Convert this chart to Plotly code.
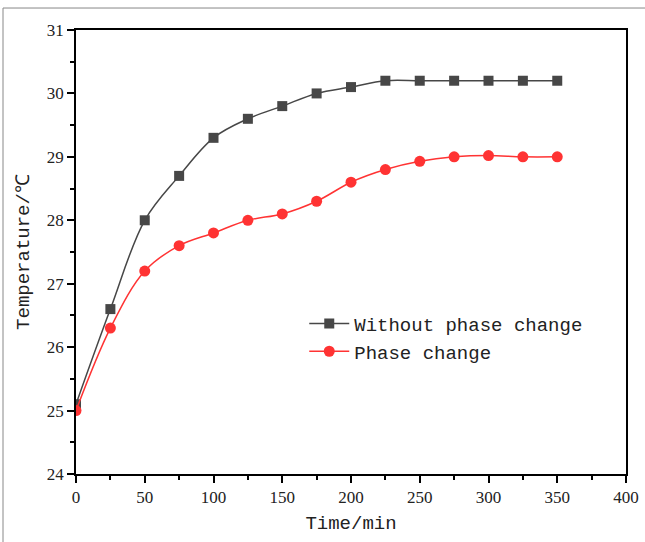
import plotly.graph_objects as go

time_min = [0, 25, 50, 75, 100, 125, 150, 175, 200, 225, 250, 275, 300, 325, 350]
without_pc = [25.1, 26.6, 28.0, 28.7, 29.3, 29.6, 29.8, 30.0, 30.1, 30.2, 30.2, 30.2, 30.2, 30.2, 30.2]
with_pc = [25.0, 26.3, 27.2, 27.6, 27.8, 28.0, 28.1, 28.3, 28.6, 28.8, 28.93, 29.0, 29.02, 29.0, 29.0]
x_ticks = [0, 50, 100, 150, 200, 250, 300, 350, 400]
y_ticks = [24, 25, 26, 27, 28, 29, 30, 31]

FONT = "Liberation Mono, DejaVu Sans Mono, monospace"

fig = go.Figure()
fig.add_trace(go.Scatter(
    x=time_min, y=without_pc, name="Without phase change",
    mode="lines+markers",
    line=dict(color="#474747", width=1.5, shape="spline", smoothing=1.0),
    marker=dict(symbol="square", size=10, color="#474747"),
))
fig.add_trace(go.Scatter(
    x=time_min, y=with_pc, name="Phase change",
    mode="lines+markers",
    line=dict(color="#ff3333", width=1.5, shape="spline", smoothing=1.0),
    marker=dict(symbol="circle", size=11, color="#ff3333"),
))

axis_common = dict(
    showline=True, linecolor="black", linewidth=1.5, mirror=True,
    ticks="outside", ticklen=7, tickwidth=1.5, tickcolor="black",
    showgrid=False, zeroline=False, automargin=False,
    tickfont=dict(family="Liberation Serif, serif", size=17, color="#222"),
    minor=dict(ticks="outside", ticklen=4, tickwidth=1.5, tickcolor="black"),
)

fig.update_layout(
    width=645, height=542,
    margin=dict(l=76, r=19, t=30, b=68),
    paper_bgcolor="white", plot_bgcolor="white",
    showlegend=True,
    legend=dict(x=0.415, y=0.307, xanchor="left", yanchor="middle",
                bgcolor="rgba(0,0,0,0)",
                font=dict(family=FONT, size=19, color="#222"),
                tracegroupgap=0, itemwidth=40),
    xaxis=dict(range=[0, 400], tickvals=x_ticks,
               title=dict(text="Time/min", font=dict(family=FONT, size=19, color="#222"), standoff=10),
               **axis_common),
    yaxis=dict(range=[24, 31], tickvals=y_ticks,
               title=dict(text="Temperature/℃", font=dict(family=FONT, size=19, color="#222"), standoff=12),
               **axis_common),
    shapes=[dict(type="rect", xref="paper", yref="paper",
                 x0=-0.1327, x1=1.2, y0=-0.3, y1=1.0495,
                 line=dict(color="#888", width=1), layer="below")],
)
fig.update_xaxes(minor=dict(tickvals=[25, 75, 125, 175, 225, 275, 325, 375]))
fig.update_yaxes(minor=dict(tickvals=[24.5, 25.5, 26.5, 27.5, 28.5, 29.5, 30.5]))

fig.write_html("out.html", config={"displayModeBar": False},
               post_script="document.body.style.margin='0';document.body.style.overflow='hidden';")
